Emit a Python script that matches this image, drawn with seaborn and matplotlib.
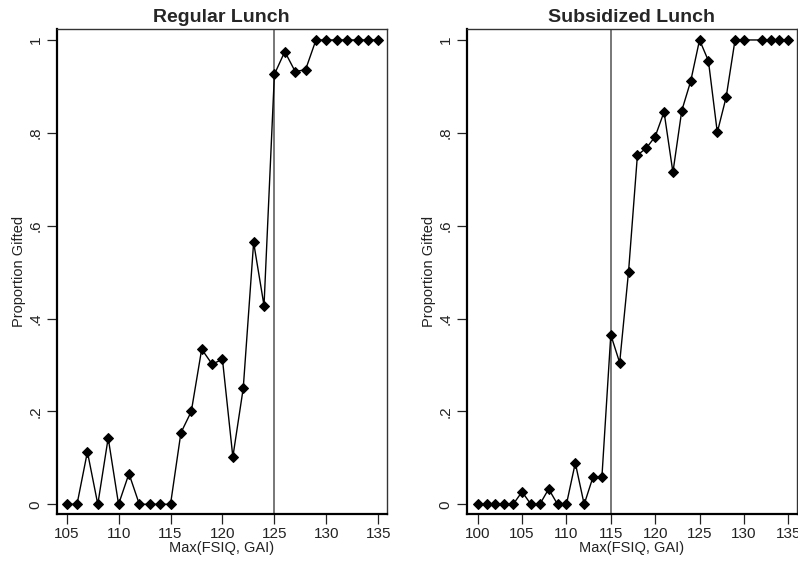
import matplotlib
matplotlib.use("Agg")
import matplotlib.pyplot as plt
import pandas as pd
import seaborn as sns

# Regular lunch: proportion gifted by max(FSIQ, GAI)
reg_iq = list(range(105, 136))
reg_prop = [0, 0, 0.113, 0, 0.143, 0, 0.066, 0, 0, 0, 0,
            0.154, 0.200, 0.334, 0.302, 0.312, 0.102, 0.250, 0.564, 0.428,
            0.926, 0.975, 0.932, 0.936, 1, 1, 1, 1, 1, 1, 1]

# Subsidized lunch (no observation at 131)
sub_iq = list(range(100, 131)) + [132, 133, 134, 135]
sub_prop = [0, 0, 0, 0, 0, 0.027, 0, 0, 0.033, 0, 0, 0.089, 0, 0.059, 0.059,
            0.365, 0.305, 0.501, 0.752, 0.767, 0.792, 0.845, 0.715, 0.848,
            0.911, 1.0, 0.955, 0.801, 0.877, 1, 1, 1, 1, 1, 1]

panels = [
    ("Regular Lunch", reg_iq, reg_prop, 125, (104.04, 135.81), [105, 110, 115, 120, 125, 130, 135]),
    ("Subsidized Lunch", sub_iq, sub_prop, 115, (98.76, 135.95), [100, 105, 110, 115, 120, 125, 130, 135]),
]
y_ticks = [0, 0.2, 0.4, 0.6, 0.8, 1.0]
y_ticklabels = ["0", ".2", ".4", ".6", ".8", "1"]

sns.set_style("white")
plt.rcParams["font.family"] = ["Liberation Sans", "DejaVu Sans"]

fig = plt.figure(figsize=(7.98, 5.61), dpi=100)
boxes = [[0.071, 0.0832, 0.4136, 0.8646], [0.5848, 0.0832, 0.4136, 0.8646]]

for (title, iq, prop, cut, xlim, xticks), box in zip(panels, boxes):
    ax = fig.add_axes(box)
    df = pd.DataFrame({"iq": iq, "prop": prop})
    ax.axvline(cut, color="#777777", lw=1.4, zorder=1)
    sns.lineplot(data=df, x="iq", y="prop", ax=ax, color="black", lw=1.0,
                 marker="D", markersize=5, markeredgecolor="black", zorder=3)
    ax.set_xlim(*xlim)
    ax.set_ylim(-0.0216, 1.023)
    ax.set_xticks(xticks)
    ax.set_yticks(y_ticks)
    ax.set_yticklabels(y_ticklabels, rotation=90, va="center")
    ax.tick_params(axis="both", direction="out", length=7, width=0.9,
                   labelsize=11, color="#222222", labelcolor="#222222", pad=3,
                   bottom=True, left=True)
    ax.tick_params(axis="x", pad=2)
    ax.set_title(title, fontsize=14, fontweight="bold", pad=5)
    ax.set_xlabel("Max(FSIQ, GAI)", fontsize=10.5, labelpad=0, color="#222222")
    ax.set_ylabel("Proportion Gifted", fontsize=10.5, labelpad=2, color="#222222")
    for side in ["left", "bottom"]:
        ax.spines[side].set_linewidth(1.6)
        ax.spines[side].set_color("black")
    for side in ["top", "right"]:
        ax.spines[side].set_linewidth(1.0)
        ax.spines[side].set_color("#333333")

fig.savefig("out.png", dpi=100)
